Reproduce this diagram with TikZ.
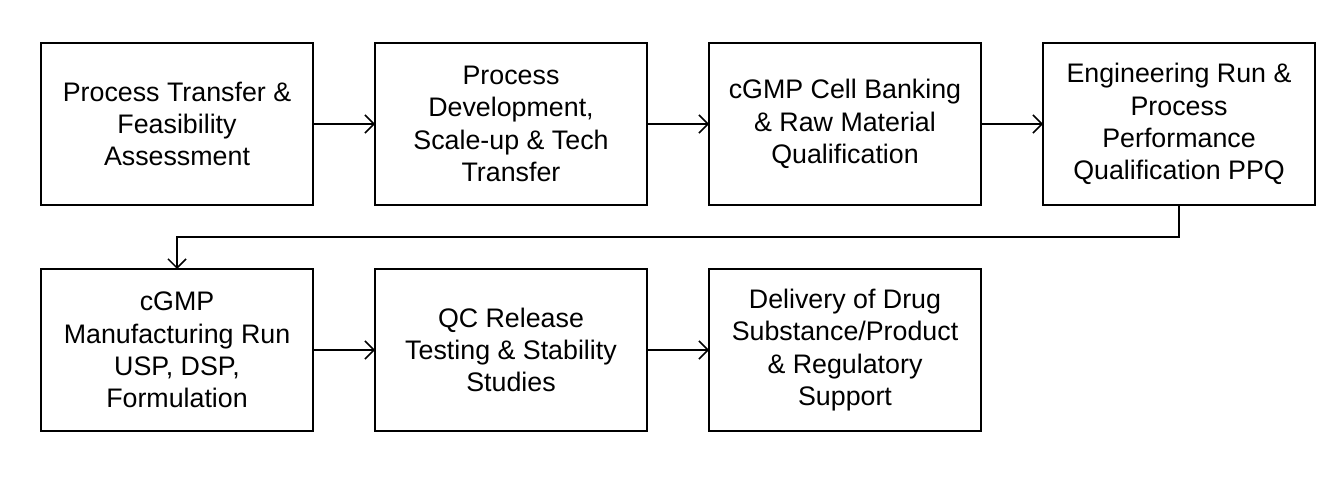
\documentclass[tikz,border=0pt]{standalone}
\usepackage{fontspec}
\setmainfont{Liberation Sans}
\usetikzlibrary{positioning,arrows.meta}

\tikzset{
	stagebox/.style={draw, line width=2pt, minimum width=272pt, minimum height=162pt,
		align=center, inner sep=0pt, outer sep=0pt, font=\fontsize{26.8}{32.3}\selectfont},
	flow/.style={line width=1.5pt, -{Straight Barb[length=9pt, width=18pt, line width=1.5pt]}}
}

\begin{document}
\begin{tikzpicture}[x=1pt, y=-1pt]
		\useasboundingbox (0,0) rectangle (1338,494);
		% first row
		\node[stagebox] (transfer) at (177,124) {Process Transfer \&\\Feasibility\\Assessment};
		\node[stagebox, right=62pt of transfer] (develop) {Process\\Development,\\Scale-up \& Tech\\Transfer};
		\node[stagebox, right=62pt of develop] (banking) {cGMP Cell Banking\\\& Raw Material\\Qualification};
		\node[stagebox, right=62pt of banking] (ppq) {Engineering Run \&\\Process\\Performance\\Qualification PPQ};
		% second row
		\node[stagebox] (manuf) at (177,350) {cGMP\\Manufacturing Run\\USP, DSP,\\Formulation};
		\node[stagebox, right=62pt of manuf] (qc) {QC Release\\Testing \& Stability\\Studies};
		\node[stagebox, right=62pt of qc] (delivery) {Delivery of Drug\\Substance/Product\\\& Regulatory\\Support};
		% connectors
		\draw[flow] (transfer) -- (develop);
		\draw[flow] (develop) -- (banking);
		\draw[flow] (banking) -- (ppq);
		\draw[flow] (ppq.south) |- (177,237) -| (manuf.north);
		\draw[flow] (manuf) -- (qc);
		\draw[flow] (qc) -- (delivery);
	\end{tikzpicture}
\end{document}
